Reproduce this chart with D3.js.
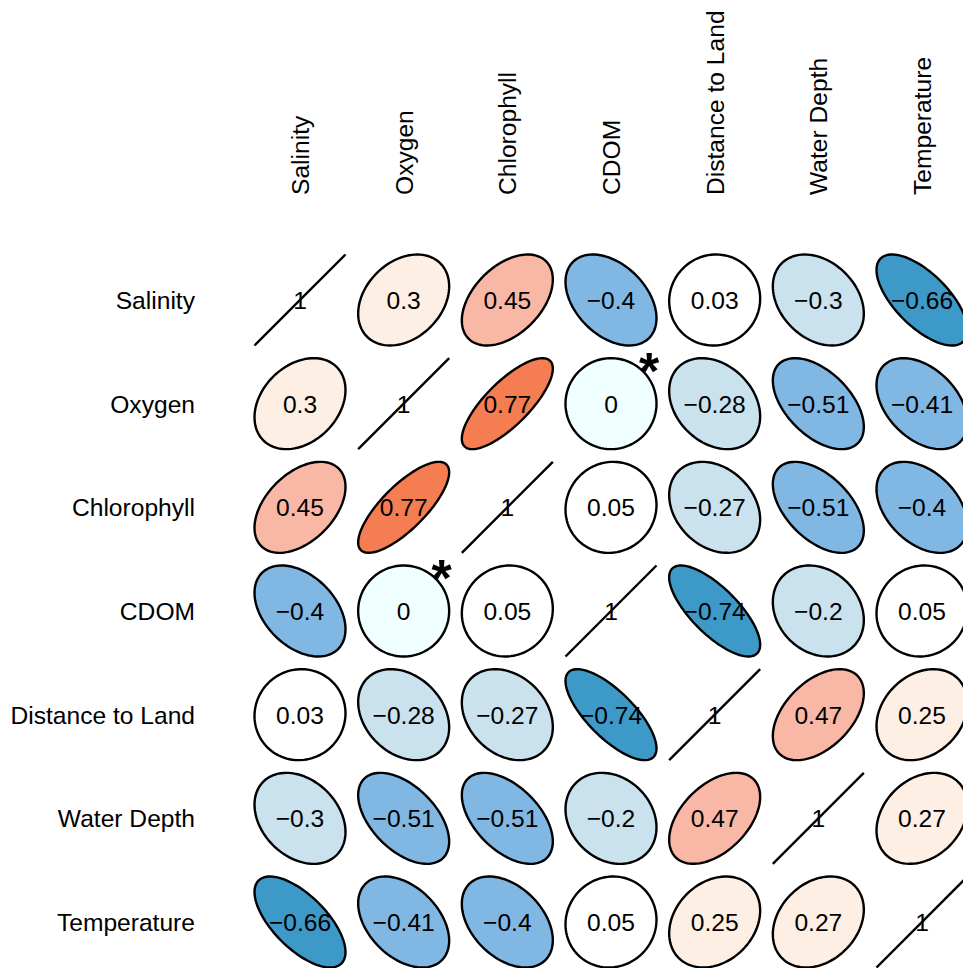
<!DOCTYPE html>
<html>
<head>
<meta charset="utf-8">
<script src="https://cdn.jsdelivr.net/npm/d3@7"></script>
<style>
  body { margin: 0; background: #fff; }
  svg text { font-family: "Liberation Sans", Arial, sans-serif; }
</style>
</head>
<body>
<svg id="graphic" width="963" height="968"></svg>
<script>
var variables = ["Salinity", "Oxygen", "Chlorophyll", "CDOM", "Distance to Land", "Water Depth", "Temperature"];

var salinity = [1, 0.3, 0.45, -0.4, 0.03, -0.3, -0.66];
var oxygen = [0.3, 1, 0.77, 0, -0.28, -0.51, -0.41];
var chlorophyll = [0.45, 0.77, 1, 0.05, -0.27, -0.51, -0.4];
var cdom = [-0.4, 0, 0.05, 1, -0.74, -0.2, 0.05];
var distance = [0.03, -0.28, -0.27, -0.74, 1, 0.47, 0.25];
var depth = [-0.3, -0.51, -0.51, -0.2, 0.47, 1, 0.27];
var temperature = [-0.66, -0.41, -0.4, 0.05, 0.25, 0.27, 1];

var corrRows = [salinity, oxygen, chlorophyll, cdom, distance, depth, temperature];

// cells flagged with a star: [row, col]
var starred = [[1, 3], [3, 1]];

var svg = d3.select("#graphic");

var pos = d3.scalePoint()
  .domain(variables)
  .range([300, 922]);

var radius = 45.5;
var fontSize = 24.6;

var fill = d3.scaleThreshold()
  .domain([-0.6, -0.35, -0.1, 0.01, 0.2, 0.4, 0.6])
  .range(["#3d99c8", "#80b7e3", "#cae1ee", "#f0ffff", "#ffffff", "#fdefe3", "#f9b8a6", "#f57d52"]);

var fmt = (v) => (v < 0 ? "\u2212" + Math.abs(v) : String(v));

// ellipse outline like R's ellipse(): x = cos(a + d/2), y = cos(a - d/2)
var ellipsePath = (r) => {
  var d = Math.acos(r);
  var pts = d3.range(0, 101).map((i) => {
    var a = (i / 100) * 2 * Math.PI;
    return [radius * Math.cos(a + d / 2), -radius * Math.cos(a - d / 2)];
  });
  return d3.line()(pts) + "Z";
};

var cells = [];
corrRows.forEach((row, i) => {
  row.forEach((v, j) => {
    cells.push({ row: variables[i], col: variables[j], value: v, diag: i == j });
  });
});

var cell = svg.append("g")
  .selectAll("g")
  .data(cells)
  .enter()
  .append("g")
  .attr("transform", (d) => "translate(" + pos(d.col) + "," + pos(d.row) + ")");

cell.filter((d) => d.diag)
  .append("line")
  .attr("x1", -radius).attr("y1", radius)
  .attr("x2", radius).attr("y2", -radius)
  .attr("stroke", "#000")
  .attr("stroke-width", 2.4);

cell.filter((d) => !d.diag)
  .append("path")
  .attr("d", (d) => ellipsePath(d.value))
  .attr("fill", (d) => fill(d.value))
  .attr("stroke", "#000")
  .attr("stroke-width", 2.4);

cell.append("text")
  .attr("text-anchor", "middle")
  .attr("dy", "0.36em")
  .attr("font-size", fontSize)
  .attr("fill", "#000")
  .text((d) => fmt(d.value));

svg.append("g")
  .selectAll("text")
  .data(starred)
  .enter()
  .append("text")
  .attr("x", (d) => pos(variables[d[1]]) + 38)
  .attr("y", (d) => pos(variables[d[0]]) - 44 + 29)
  .attr("text-anchor", "middle")
  .attr("font-size", 52)
  .attr("font-weight", "bold")
  .text("*");

// row labels
svg.append("g")
  .selectAll("text")
  .data(variables)
  .enter()
  .append("text")
  .attr("x", 195)
  .attr("y", (d) => pos(d))
  .attr("dy", "0.36em")
  .attr("text-anchor", "end")
  .attr("font-size", fontSize)
  .text((d) => d);

// column labels
svg.append("g")
  .selectAll("text")
  .data(variables)
  .enter()
  .append("text")
  .attr("transform", (d) => "translate(" + pos(d) + ",195) rotate(-90)")
  .attr("dy", "0.36em")
  .attr("text-anchor", "start")
  .attr("font-size", fontSize)
  .text((d) => d);
</script>
</body>
</html>
